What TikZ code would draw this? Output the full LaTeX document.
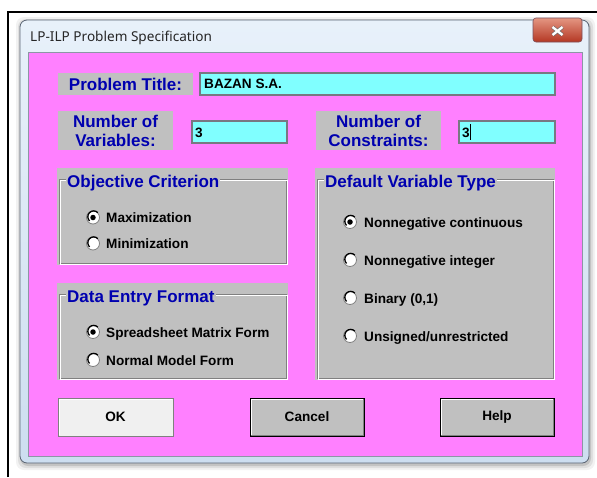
\documentclass[tikz,border=0pt]{standalone}
\usepackage{fontspec}
\setmainfont{Liberation Sans}
\newfontfamily\myTitleFont{Noto Sans}
\usetikzlibrary{shadings}
\definecolor{pinkbg}{RGB}{255,128,255}
\definecolor{fcyan}{RGB}{128,255,255}
\definecolor{panelgray}{RGB}{192,192,192}
\definecolor{dblue}{RGB}{0,0,176}
\definecolor{fborder}{RGB}{120,120,130}
\definecolor{etchdark}{RGB}{128,128,128}
\definecolor{frametop}{RGB}{232,241,250}
\definecolor{framebot}{RGB}{205,222,240}
\definecolor{frameline}{RGB}{90,100,115}
\definecolor{innerline}{RGB}{140,150,165}
\definecolor{closetop}{RGB}{228,150,130}
\definecolor{closebot}{RGB}{180,55,35}
\definecolor{btnlight}{RGB}{240,240,240}
\newcommand\myLblFont{\bfseries\fontsize{17}{19}\selectfont}
\newcommand\mySmallBold{\bfseries\fontsize{13.6}{15}\selectfont}
\tikzset{
  lbl/.style={fill=panelgray, text=dblue, font=\myLblFont, inner sep=0pt, align=center},
  fld/.style={fill=fcyan, draw=fborder, line width=1.2pt, inner sep=0pt},
  fldtxt/.style={anchor=base west, inner sep=0pt, font=\mySmallBold},
  grp/.style={fill=panelgray, inner sep=0pt},
  grptitle/.style={anchor=base west, fill=panelgray, text=dblue, font=\myLblFont, inner xsep=1pt, inner ysep=0pt},
  radio/.style={circle, fill=white, draw=etchdark, line width=0.8pt, minimum size=13pt, inner sep=0pt},
  seldot/.style={circle, fill=black, minimum size=5.5pt, inner sep=0pt},
  radiotxt/.style={anchor=base west, inner sep=0pt, font=\mySmallBold},
  btn/.style={fill=panelgray, draw=black, line width=1pt, minimum width=114pt, minimum height=38pt, inner sep=0pt, font=\mySmallBold},
  okbtn/.style={fill=btnlight, draw=etchdark, line width=1pt, minimum width=115pt, minimum height=38pt, inner sep=0pt, font=\mySmallBold},
}
\begin{document}
\begin{tikzpicture}[x=1pt,y=-1pt]
\useasboundingbox (0,0) rectangle (597,477);
\fill[white] (0,0) rectangle (597,477);
% window shadow
\foreach \d/\o in {6/0.05,4/0.08,2/0.12}{
  \fill[black,opacity=\o,rounded corners=8pt] (20-\d+2,20-\d+3) rectangle (589+\d,463+\d+1);
}
% window frame
\shade[top color=frametop, bottom color=framebot, rounded corners=7pt, draw=frameline, line width=0.8pt] (20,20) rectangle (589,463);
\node[anchor=base west, inner sep=0pt, font=\myTitleFont\fontsize{13.6}{16}\selectfont, text=black!85] (wtitle) at (30,41.5) {LP-ILP Problem Specification};
% close button
\shade[top color=closetop, bottom color=closebot, draw=frameline!80!red, line width=0.6pt, rounded corners=3pt] (533,18) rectangle (582,42);
\coordinate (xc) at (557.5,31);
\draw[black!60, line width=3.6pt] ([shift={(-5,-4)}]xc) -- ([shift={(5,4)}]xc) ([shift={(-5,4)}]xc) -- ([shift={(5,-4)}]xc);
\draw[white, line width=2.4pt] ([shift={(-5,-4)}]xc) -- ([shift={(5,4)}]xc) ([shift={(-5,4)}]xc) -- ([shift={(5,-4)}]xc);
% pink client area
\fill[pinkbg, draw=innerline, line width=0.8pt] (28,52) rectangle (582,456);
% screenshot border lines
\draw[black, line width=2.5pt] (8,477) -- (8,12) -- (597,12);

% problem title
\node[lbl, minimum width=135pt, minimum height=22pt] (ptl) at (125.5,84) {Problem Title:};
\node[fld, minimum width=355pt, minimum height=22pt] (ptf) at (377.5,84) {};
\node[fldtxt] (ptt) at (204,88.5) {BAZAN S.A.};

% number of variables
\node[lbl, minimum width=115pt, minimum height=39pt] (nvl) at (115.5,130.5) {Number of\\Variables:};
\node[fld, minimum width=95pt, minimum height=22pt] (nvf) at (239.5,132) {};
\node[fldtxt] (nvt) at (195,137) {3};

% number of constraints
\node[lbl, minimum width=125pt, minimum height=39pt] (ncl) at (378.5,130.5) {Number of\\Constraints:};
\node[fld, minimum width=96pt, minimum height=22pt] (ncf) at (507,132) {};
\node[fldtxt] (nct) at (462,137) {3};
\coordinate (cur1) at (470.5,124);
\coordinate (cur2) at (470.5,140);
\draw[black, line width=0.9pt] (cur1) -- (cur2);

% objective criterion group
\node[grp, minimum width=231pt, minimum height=97pt] (gobj) at (172.5,216.5) {};
\draw[etchdark, line width=0.8pt] (59,179) rectangle (286,263);
\draw[white, line width=0.8pt] (60,180) rectangle (287,264);
\node[grptitle] (tobj) at (66,187.5) {Objective Criterion};
\node[radio] (r1) at (93,217.5) {};
\node[seldot] (d1) at (r1) {};
\node[radiotxt] (t1) at (106,222.5) {Maximization};
\node[radio] (r2) at (93,243.5) {};
\node[radiotxt] (t2) at (106,248.5) {Minimization};

% data entry format group
\node[grp, minimum width=231pt, minimum height=97pt] (gdat) at (172.5,331.5) {};
\draw[etchdark, line width=0.8pt] (59,294) rectangle (286,378);
\draw[white, line width=0.8pt] (60,295) rectangle (287,379);
\node[grptitle] (tdat) at (66,302.5) {Data Entry Format};
\node[radio] (r3) at (93,332) {};
\node[seldot] (d3) at (r3) {};
\node[radiotxt] (t3) at (106,337) {Spreadsheet Matrix Form};
\node[radio] (r4) at (93,360) {};
\node[radiotxt] (t4) at (106,365) {Normal Model Form};

% default variable type group
\node[grp, minimum width=240pt, minimum height=212pt] (gdef) at (435,274) {};
\draw[etchdark, line width=0.8pt] (317,179) rectangle (553,378);
\draw[white, line width=0.8pt] (318,180) rectangle (554,379);
\node[grptitle] (tdef) at (324,187.5) {Default Variable Type};
\node[radio] (r5) at (350,222) {};
\node[seldot] (d5) at (r5) {};
\node[radiotxt] (t5) at (364,227) {Nonnegative continuous};
\node[radio] (r6) at (350,260) {};
\node[radiotxt] (t6) at (364,265) {Nonnegative integer};
\node[radio] (r7) at (350,298) {};
\node[radiotxt] (t7) at (364,303) {Binary (0,1)};
\node[radio] (r8) at (350,336) {};
\node[radiotxt] (t8) at (364,341) {Unsigned/unrestricted};

% radio bevels
\foreach \r in {r1,r2,r3,r4,r5,r6,r7,r8}{
  \draw[black, line width=1.3pt] (\r.45) arc[start angle=45, end angle=225, radius=5.9pt];
}

% buttons
\node[okbtn] (bok) at (115.5,417) {OK};
\draw[white, line width=1pt] ([shift={(1.5,-1.5)}]bok.south west) -- ([shift={(1.5,1.5)}]bok.north west) -- ([shift={(-1.5,1.5)}]bok.north east);
\node[btn] (bcan) at (307,417) {Cancel};
\draw[white, line width=1pt] ([shift={(1.5,-1.5)}]bcan.south west) -- ([shift={(1.5,1.5)}]bcan.north west) -- ([shift={(-1.5,1.5)}]bcan.north east);
\draw[etchdark, line width=1pt] ([shift={(-1.5,1.5)}]bcan.north east) -- ([shift={(-1.5,-1.5)}]bcan.south east) -- ([shift={(1.5,-1.5)}]bcan.south west);
\node[btn] (bhelp) at (497,417) {Help};
\draw[white, line width=1pt] ([shift={(1.5,-1.5)}]bhelp.south west) -- ([shift={(1.5,1.5)}]bhelp.north west) -- ([shift={(-1.5,1.5)}]bhelp.north east);
\draw[etchdark, line width=1pt] ([shift={(-1.5,1.5)}]bhelp.north east) -- ([shift={(-1.5,-1.5)}]bhelp.south east) -- ([shift={(1.5,-1.5)}]bhelp.south west);
\end{tikzpicture}
\end{document}
